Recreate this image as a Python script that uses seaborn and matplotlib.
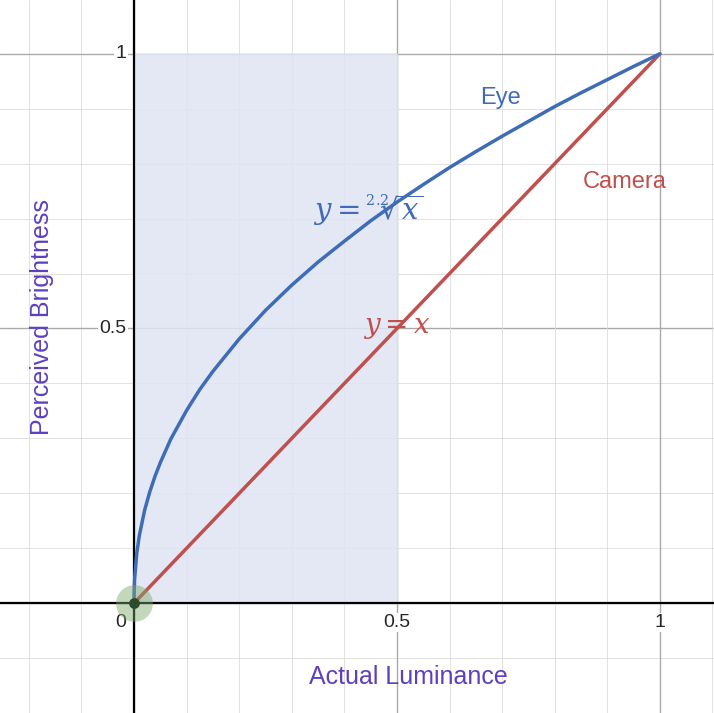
import matplotlib
matplotlib.use("Agg")
import matplotlib.pyplot as plt
import seaborn as sns

# Eye response y = x^(1/2.2), sampled values
eye_x = [0, 0.0001, 0.001, 0.005, 0.01, 0.02, 0.03, 0.04, 0.05, 0.07, 0.1, 0.125, 0.15, 0.2,
         0.25, 0.3, 0.35, 0.4, 0.45, 0.5, 0.55, 0.6, 0.65, 0.7, 0.75, 0.8, 0.85, 0.9, 0.95, 1.0]
eye_y = [0, 0.0152, 0.0433, 0.090, 0.123, 0.169, 0.203, 0.2315, 0.256, 0.299, 0.351, 0.389, 0.422, 0.481,
         0.533, 0.579, 0.621, 0.659, 0.696, 0.730, 0.762, 0.793, 0.822, 0.850, 0.877, 0.904, 0.929, 0.953, 0.977, 1.0]
# Camera response y = x
cam_x = [0, 1]
cam_y = [0, 1]

major_ticks = [0, 0.5, 1]
tick_labels = ["0", "0.5", "1"]

blue = "#3f6cb6"
red = "#c0504d"
purple = "#5e3fbf"

sns.set_style("white")
plt.rcParams["font.family"] = ["Liberation Sans", "DejaVu Sans"]
plt.rcParams["mathtext.fontset"] = "dejavuserif"
fig = plt.figure(figsize=(7.14, 7.13), dpi=100)
ax = fig.add_axes([0, 0, 1, 1])
ax.set_xlim(-0.255, 1.103)
ax.set_ylim(-0.2, 1.098)
for s in ax.spines.values():
    s.set_visible(False)
ax.set_xticks([])
ax.set_yticks([])

# grid
for i in range(-2, 12):
    v = i / 10
    lw, c = (1.0, "#aaaaaa") if i % 5 == 0 else (0.6, "#dddddd")
    ax.axvline(v, color=c, lw=lw, zorder=0)
    ax.axhline(v, color=c, lw=lw, zorder=0)
ax.axvline(0, color="black", lw=1.6, zorder=1)
ax.axhline(0, color="black", lw=1.6, zorder=1)

# shaded region
ax.fill_between([0, 0.5], 0, 1, color="#dfe5f3", alpha=0.85, zorder=0.5)

sns.lineplot(x=cam_x, y=cam_y, ax=ax, color=red, lw=2.5, zorder=3)
sns.lineplot(x=eye_x, y=eye_y, ax=ax, color=blue, lw=2.5, zorder=4, sort=False)
ax.scatter([0], [0], s=700, color="#7aa86a", alpha=0.45, zorder=5, lw=0)
ax.scatter([0], [0], s=60, color="#2d4a2d", zorder=6, lw=0)

ax.text(0.696, 0.92, "Eye", color=blue, fontsize=17, ha="center", va="center")
ax.text(0.933, 0.767, "Camera", color=red, fontsize=17, ha="center", va="center")
ax.text(0.445, 0.715, r"$y=\sqrt[2.2]{x}$", color=blue, fontsize=21, ha="center", va="center")
ax.text(0.5, 0.5, r"$y=x$", color=red, fontsize=20, ha="center", va="center")

for v, lab in zip(major_ticks, tick_labels):
    if v == 0:
        ax.text(-0.015, -0.02, lab, fontsize=14, ha="right", va="top")
        continue
    ax.text(v, -0.02, lab, fontsize=14, ha="center", va="top",
            bbox=dict(fc="white", ec="none", pad=1))
    ax.text(-0.015, v, lab, fontsize=14, ha="right", va="center",
            bbox=dict(fc="white", ec="none", pad=1))

ax.text(0.521, -0.135, "Actual Luminance", color=purple, fontsize=18, ha="center", va="center")
ax.text(-0.175, 0.52, "Perceived Brightness", color=purple, fontsize=18,
        ha="center", va="center", rotation=90)

fig.savefig("out.png", dpi=100)
plt.close(fig)
